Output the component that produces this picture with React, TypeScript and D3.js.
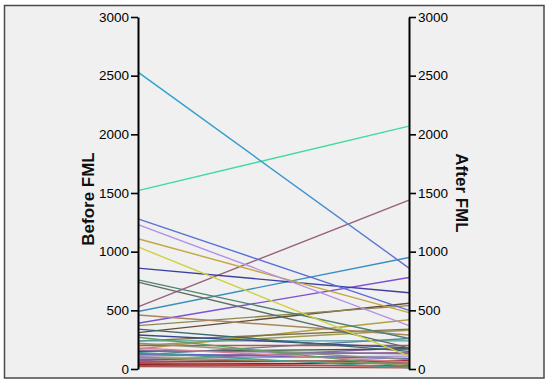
import React, { useRef, useEffect } from "react";
import * as d3 from "d3";

// one entry per case: value before and after FML
const beforeValues = [2530, 1520, 1280, 1230, 1110, 1040, 860, 760, 740, 530, 490, 460, 390, 370, 340, 310, 290, 270, 240, 240, 220, 200, 200, 180, 170, 160, 150, 140, 130, 120, 110, 100, 90, 80, 70, 60, 50, 40, 30, 20];
const afterValues = [860, 2070, 500, 370, 480, 110, 650, 260, 180, 1440, 950, 290, 780, 540, 150, 560, 180, 20, 240, 340, 80, 200, 330, 60, 420, 130, 170, 10, 90, 260, 140, 40, 110, 60, 180, 70, 20, 50, 30, 10];
const lineColors = [
  "url(#gradA)", "#3ddc9c", "#5b6fd6", "#b48ee6", "#c4a640", "#cfd040", "#3d3fa0", "#4f8070",
  "#5a7060", "#97607f", "#3b8fc0", "#a8865a", "#7d52d0", "#8a8a50", "#3a6a6a", "#6a4a3a",
  "#384890", "#60a060", "#50a0a0", "#807048", "#8a9080", "#c05050", "#a09a50", "#d08090",
  "#b0a040", "#8070a0", "#3a5a3a", "#40a090", "#6060c0", "#6080a0", "#9a6a9a", "#909060",
  "#a090d0", "#805040", "#9060b0", "#a03030", "#c04040", "#902020", "#b04848", "#a05050",
];
const sides = ["Before FML", "After FML"];
const tickValues = [0, 500, 1000, 1500, 2000, 2500, 3000];

const width = 550;
const height = 387;
const leftX = 138;
const rightX = 409;
const top = 17;
const bottom = 369;

function App() {
  const svgRef = useRef<SVGSVGElement>(null);

  useEffect(() => {
    const svg = d3.select(svgRef.current);
    svg.selectAll("*").remove();

    const x = d3.scalePoint<string>().domain(sides).range([leftX, rightX]);
    const y = d3.scaleLinear().domain([0, 3000]).range([bottom, top]);

    const grad = svg
      .append("defs")
      .append("linearGradient")
      .attr("id", "gradA")
      .attr("gradientUnits", "userSpaceOnUse")
      .attr("x1", leftX)
      .attr("x2", rightX)
      .attr("y1", 0)
      .attr("y2", 0);
    grad.append("stop").attr("offset", "0%").attr("stop-color", "#22a6cc");
    grad.append("stop").attr("offset", "55%").attr("stop-color", "#3a98cc");
    grad.append("stop").attr("offset", "100%").attr("stop-color", "#6a6ad2");

    // frame
    svg
      .append("rect")
      .attr("x", 4.5)
      .attr("y", 5.5)
      .attr("width", 539.5)
      .attr("height", 372.5)
      .attr("fill", "#f0f0f0")
      .attr("stroke", "#4a4a4a")
      .attr("stroke-width", 1.5);

    // case lines
    const lineGen = d3
      .line<[string, number]>()
      .x((d) => x(d[0]) as number)
      .y((d) => y(d[1]));

    const cases = beforeValues.map((b, i) => ({
      pts: [
        [sides[0], b],
        [sides[1], afterValues[i]],
      ] as [string, number][],
      color: lineColors[i],
    }));

    svg
      .append("g")
      .selectAll("path")
      .data(cases.slice().reverse())
      .join("path")
      .attr("d", (d) => lineGen(d.pts))
      .attr("fill", "none")
      .attr("stroke", (d) => d.color)
      .attr("stroke-width", 1.4);

    const styleAxis = (g: any) => {
      g.select(".domain").attr("stroke", "#000").attr("stroke-width", 2);
      g.selectAll(".tick line").attr("stroke", "#000").attr("stroke-width", 1.6);
      g.selectAll(".tick text")
        .attr("fill", "#000")
        .style("font-family", "Arial, 'Liberation Sans', sans-serif")
        .style("font-size", "13.5px");
    };

    const fmt = d3.format("d");

    svg
      .append("g")
      .attr("transform", `translate(${leftX},0)`)
      .call(d3.axisLeft(y).tickValues(tickValues).tickFormat(fmt).tickSize(7).tickSizeOuter(0).tickPadding(2))
      .call(styleAxis);

    svg
      .append("g")
      .attr("transform", `translate(${rightX},0)`)
      .call(d3.axisRight(y).tickValues(tickValues).tickFormat(fmt).tickSize(7).tickSizeOuter(0).tickPadding(2))
      .call(styleAxis);

    // axis titles
    svg
      .append("text")
      .attr("transform", `translate(94,${(top + bottom) / 2 + 6}) rotate(-90)`)
      .attr("text-anchor", "middle")
      .style("font-family", "Arial, 'Liberation Sans', sans-serif")
      .style("font-size", "17px")
      .style("font-weight", "bold")
      .attr("fill", "#111")
      .text(sides[0]);

    svg
      .append("text")
      .attr("transform", `translate(456,${(top + bottom) / 2}) rotate(90)`)
      .attr("text-anchor", "middle")
      .style("font-family", "Arial, 'Liberation Sans', sans-serif")
      .style("font-size", "17px")
      .style("font-weight", "bold")
      .attr("fill", "#111")
      .text(sides[1]);
  }, []);

  return (
    <svg
      ref={svgRef}
      width={width}
      height={height}
      style={{ position: "absolute", left: 0, top: 0, background: "#fff" }}
    />
  );
}

export default App;
